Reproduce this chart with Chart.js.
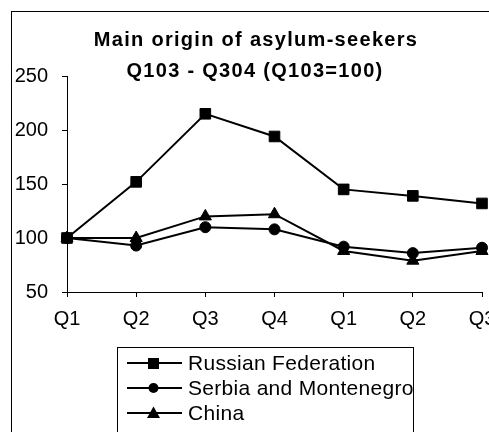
<!DOCTYPE html>
<html>
<head>
<meta charset="utf-8">
<script src="https://cdn.jsdelivr.net/npm/chart.js@4.4.0/dist/chart.umd.min.js"></script>
<style>
  html, body { margin: 0; padding: 0; overflow: hidden; background: #fff; }
  #wrap { position: absolute; left: 0; top: 0; width: 520px; height: 460px; }
</style>
</head>
<body>
<div id="wrap"><canvas id="originChart"></canvas></div>
<script>
// Main origin of asylum-seekers, index Q103 = 100
const quarters = ['Q1', 'Q2', 'Q3', 'Q4', 'Q1', 'Q2', 'Q3'];
const russia = [100, 152, 215, 194, 145, 139, 132];
const serbia = [100, 93, 110, 108, 92, 86, 91];
const china = [100, 100, 120, 122, 88, 79, 88];
const yTicks = [50, 100, 150, 200, 250];
const titleLines = ['Main origin of asylum-seekers', 'Q103 - Q304 (Q103=100)'];
const seriesNames = ['Russian Federation', 'Serbia and Montenegro', 'China'];

const font = "'Liberation Sans', Arial, sans-serif";

// frame, title and boxed legend like the Excel original
const framePlugin = {
    id: 'frame',
    beforeDraw(chart) {
        const c = chart.ctx;
        c.save();
        c.strokeStyle = '#000';
        c.lineWidth = 1;
        c.strokeRect(11.5, 11.5, chart.width, chart.height);
        c.restore();
    },
    afterDraw(chart) {
        const c = chart.ctx;
        c.save();
        c.fillStyle = '#000';
        c.textAlign = 'center';
        c.textBaseline = 'alphabetic';
        c.font = 'bold 20px ' + font;
        c.letterSpacing = '1.3px';
        c.fillText(titleLines[0], 256, 46);
        c.fillText(titleLines[1], 255, 77);

        // legend
        c.letterSpacing = '0.3px';
        c.strokeStyle = '#000';
        c.lineWidth = 1;
        c.strokeRect(117.5, 347.5, 296, 200);
        c.font = '21px ' + font;
        c.textAlign = 'left';
        chart.data.datasets.forEach((ds, i) => {
            const y = 363 + i * 25;
            c.lineWidth = 2;
            c.beginPath();
            c.moveTo(127, y);
            c.lineTo(182, y);
            c.stroke();
            c.beginPath();
            if (ds.pointStyle === 'rect') {
                c.rect(148, y - 5, 11, 11);
            } else if (ds.pointStyle === 'circle') {
                c.arc(153.5, y, 5, 0, Math.PI * 2);
            } else {
                c.moveTo(153.5, y - 6.5);
                c.lineTo(160, y + 5);
                c.lineTo(147, y + 5);
                c.closePath();
            }
            c.fill();
            c.fillText(ds.label, 188, y + 7);
        });
        c.restore();
    }
};

const ctx = document.getElementById('originChart').getContext('2d');
const originChart = new Chart(ctx, {
    type: 'line',
    data: {
        labels: quarters,
        datasets: [{
            label: seriesNames[0],
            data: russia,
            pointStyle: 'rect',
            pointRadius: 7.5,
            pointHoverRadius: 7.5
        }, {
            label: seriesNames[1],
            data: serbia,
            pointStyle: 'circle',
            pointRadius: 5.5,
            pointHoverRadius: 5.5
        }, {
            label: seriesNames[2],
            data: china,
            pointStyle: 'triangle',
            pointRadius: 7,
            pointHoverRadius: 7
        }].map(ds => Object.assign(ds, {
            borderColor: '#000',
            backgroundColor: '#000',
            pointBackgroundColor: '#000',
            pointBorderColor: '#000',
            pointBorderWidth: 1,
            borderWidth: 2,
            tension: 0,
            fill: false
        }))
    },
    options: {
        responsive: true,
        maintainAspectRatio: false,
        animation: false,
        layout: {
            padding: { top: 76, right: 38, bottom: 108, left: 0 }
        },
        plugins: {
            legend: { display: false },
            title: { display: false },
            tooltip: { enabled: false }
        },
        scales: {
            x: {
                offset: false,
                afterFit(scale) { scale.height = 60; },
                grid: {
                    drawOnChartArea: false,
                    drawTicks: true,
                    tickLength: 5,
                    color: '#000'
                },
                border: { display: true, color: '#000', width: 1 },
                ticks: {
                    color: '#000',
                    padding: 10,
                    maxRotation: 0,
                    autoSkip: false,
                    font: { family: font, size: 20 }
                }
            },
            y: {
                min: yTicks[0],
                max: yTicks[yTicks.length - 1],
                afterFit(scale) { scale.width = 67; },
                afterBuildTicks(scale) { scale.ticks = yTicks.map(v => ({ value: v })); },
                grid: {
                    drawOnChartArea: false,
                    drawTicks: true,
                    tickLength: 5,
                    color: '#000'
                },
                border: { display: true, color: '#000', width: 1 },
                ticks: {
                    color: '#000',
                    padding: 14,
                    font: { family: font, size: 20 }
                }
            }
        }
    },
    plugins: [framePlugin]
});
</script>
</body>
</html>
